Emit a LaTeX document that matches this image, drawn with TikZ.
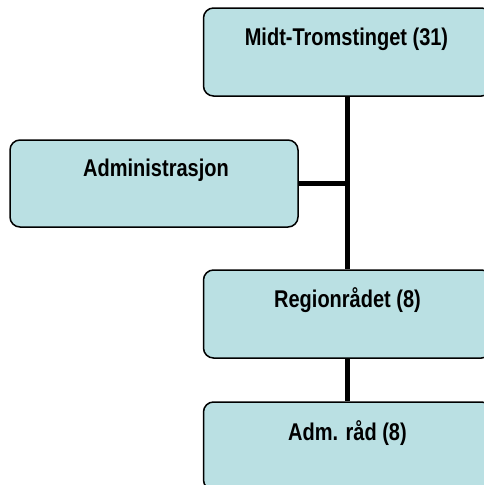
\documentclass[tikz,border=0pt]{standalone}
\usepackage{fontspec}
\setmainfont{Liberation Sans}
\usetikzlibrary{calc}
\definecolor{boxfill}{RGB}{186,224,227}
\newcommand{\tallbold}[1]{\scalebox{1}[1.21]{#1}}
\begin{document}
\begin{tikzpicture}[x=1pt,y=1pt,
  orgbox/.style={draw=black, line width=1.5pt, fill=boxfill, rounded corners=10pt,
    minimum width=288pt, minimum height=88pt, inner sep=0pt},
  boxlabel/.style={font=\fontsize{20}{24}\selectfont\bfseries, anchor=base, inner sep=0pt},
  conn/.style={draw=black, line width=5.5pt}]
\useasboundingbox (0,0) rectangle (484,-485);
\clip (0,0) rectangle (484,-485);
\node[orgbox] (top) at (347.5,-52) {};
\node[orgbox, minimum height=87pt] (adm) at (154,-183.5) {};
\node[orgbox] (reg) at (347.5,-314) {};
\node[orgbox] (admrad) at (347.5,-446) {};
\node[boxlabel] (ttop) at ($(top.north)+(-1,-38)$) {\tallbold{Midt-Tromstinget (31)}};
\node[boxlabel] (tadm) at ($(adm.north)+(2,-37)$) {\tallbold{Administrasjon}};
\node[boxlabel] (treg) at ($(reg.north)+(0,-38.5)$) {\tallbold{Regionrådet (8)}};
\node[boxlabel] (tadmrad) at ($(admrad.north)+(0,-39.5)$) {\tallbold{Adm. råd (8)}};
\draw[conn] (top.south) -- (reg.north);
\draw[conn] (adm.east) -- (adm.east -| top.south);
\draw[conn] (reg.south) -- (admrad.north);
\end{tikzpicture}
\end{document}
